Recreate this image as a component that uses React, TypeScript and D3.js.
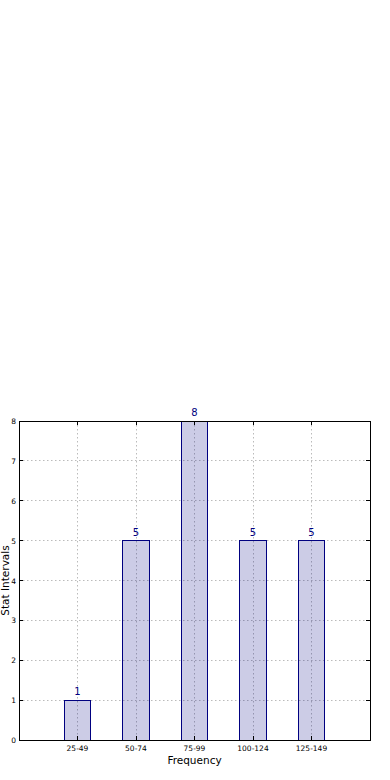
import React from "react";
import * as d3 from "d3";

const categories = ["25-49", "50-74", "75-99", "100-124", "125-149"];
const values = [1, 5, 8, 5, 5];
const yTicks = [0, 1, 2, 3, 4, 5, 6, 7, 8];

export default function App() {
  const W = 390, H = 780;
  const left = 19, right = 370, top = 421, bottom = 740;
  const x = d3.scaleLinear().domain([-1, 5]).range([left, right]);
  const y = d3.scaleLinear().domain([0, 8]).range([bottom, top]);
  const bw = 0.45;
  const font = "DejaVu Sans, sans-serif";
  const px = (v: number) => Math.floor(v) + 0.5;
  return (
    <div style={{ position: "absolute", left: 0, top: 0, width: W, height: H, background: "#fff" }}>
      <svg width={W} height={H} style={{ display: "block" }}>
        <rect x={0} y={0} width={W} height={H} fill="#fff" />
        {/* grid */}
        {yTicks.map((t) => (
          <line key={"gy" + t} x1={left} x2={right} y1={px(y(t))} y2={px(y(t))}
            stroke="#bbb" strokeDasharray="1.5,2.5" strokeWidth={1} />
        ))}
        {categories.map((c, i) => (
          <line key={"gx" + i} x1={px(x(i))} x2={px(x(i))} y1={top} y2={bottom}
            stroke="#bbb" strokeDasharray="1.5,2.5" strokeWidth={1} />
        ))}
        {/* bars */}
        {values.map((v, i) => (
          <rect key={"b" + i}
            x={px(x(i - bw / 2))}
            y={px(y(v))}
            width={Math.floor(x(i + bw / 2)) - Math.floor(x(i - bw / 2))}
            height={Math.floor(y(0)) - Math.floor(y(v))}
            fill="#000080" fillOpacity={0.2} stroke="#000080" strokeWidth={1} />
        ))}
        {/* ticks */}
        {yTicks.map((t) => (
          <g key={"ty" + t}>
            <line x1={left} x2={left + 4} y1={px(y(t))} y2={px(y(t))} stroke="#000" />
            <line x1={right - 4} x2={right} y1={px(y(t))} y2={px(y(t))} stroke="#000" />
            <text x={left - 3} y={y(t) + 3} fontSize={7.5} fontFamily={font} textAnchor="end" fill="#000">{t}</text>
          </g>
        ))}
        {categories.map((c, i) => (
          <g key={"tx" + i}>
            <line x1={px(x(i))} x2={px(x(i))} y1={bottom} y2={bottom - 4} stroke="#000" />
            <line x1={px(x(i))} x2={px(x(i))} y1={top} y2={top + 4} stroke="#000" />
            <text x={x(i)} y={bottom + 10.5} fontSize={7.5} fontFamily={font} textAnchor="middle" fill="#000">{c}</text>
          </g>
        ))}
        {/* frame */}
        <rect x={left + 0.5} y={top + 0.5} width={right - left} height={bottom - top} fill="none" stroke="#000" strokeWidth={1} />
        {/* value labels */}
        {values.map((v, i) => (
          <text key={"v" + i} x={x(i)} y={y(v) - 5} fontSize={10} fontFamily={font} textAnchor="middle" fill="#000080">{v}</text>
        ))}
        {/* axis labels */}
        <text x={(left + right) / 2} y={763.5} fontSize={10.5} fontFamily={font} textAnchor="middle" fill="#000">Frequency</text>
        <text transform={`translate(8.5,${(top + bottom) / 2}) rotate(-90)`} fontSize={10.5} fontFamily={font} textAnchor="middle" fill="#000">Stat Intervals</text>
      </svg>
    </div>
  );
}
